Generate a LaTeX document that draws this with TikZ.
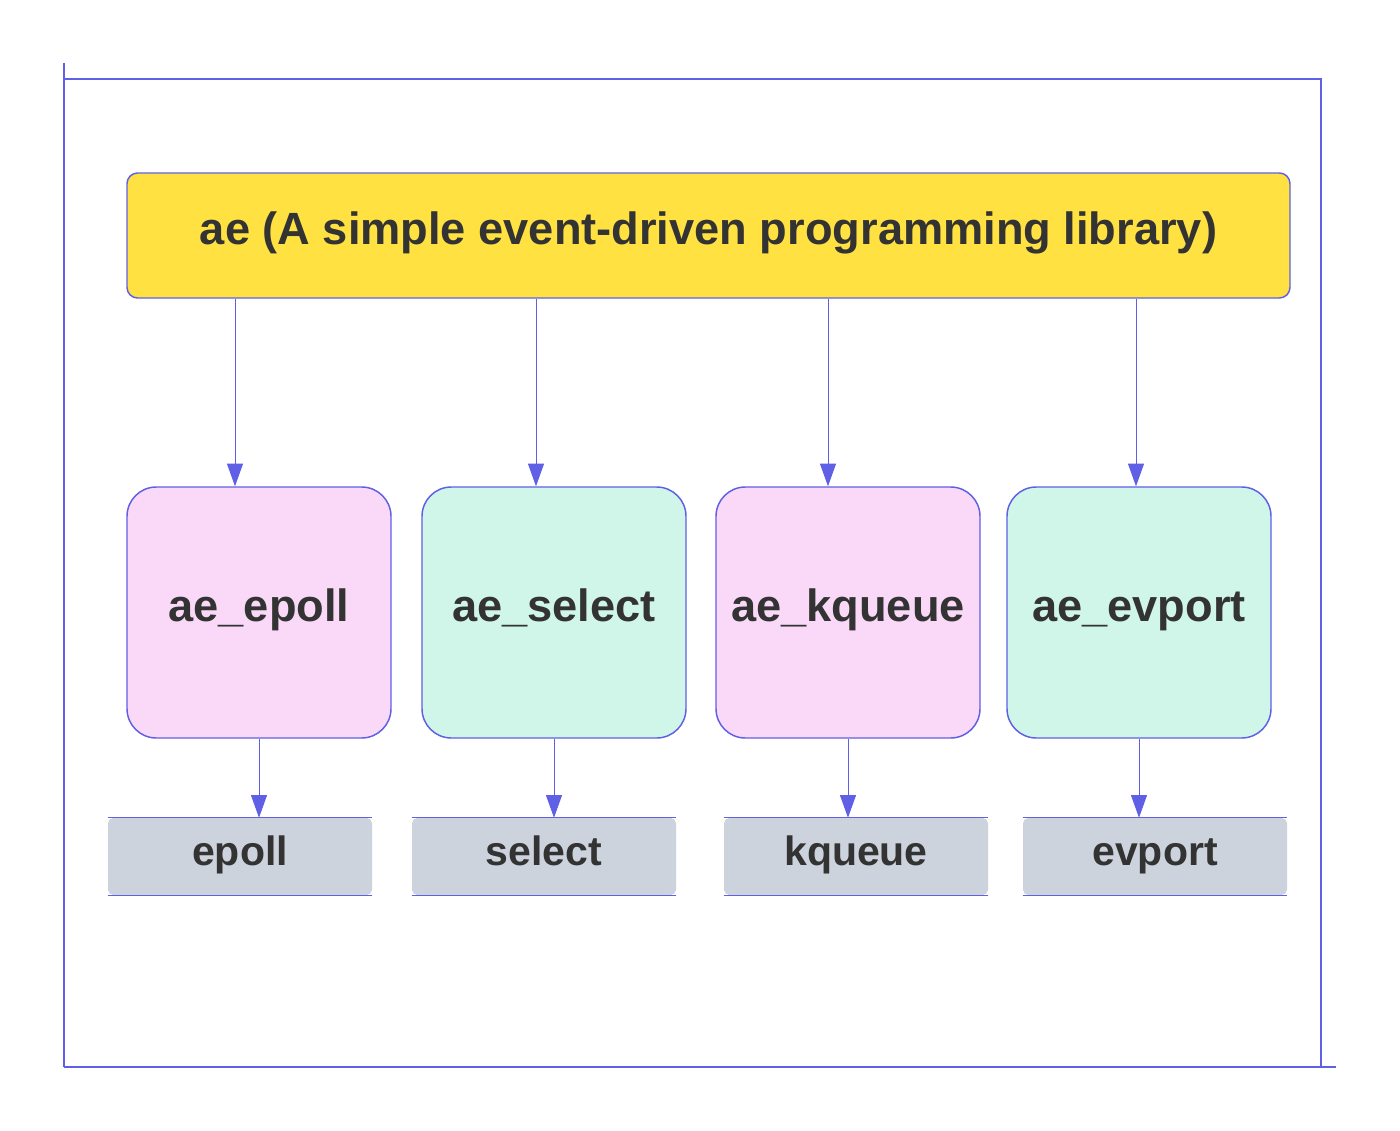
\documentclass[tikz,border=0pt]{standalone}
\usepackage{fontspec}
\setmainfont{Liberation Sans}
\usetikzlibrary{arrows.meta}
\definecolor{lineblue}{RGB}{96,96,230}
\definecolor{aeyellow}{RGB}{255,225,65}
\definecolor{aepink}{RGB}{249,217,247}
\definecolor{aemint}{RGB}{207,246,233}
\definecolor{aegrey}{RGB}{205,211,221}
\definecolor{txt}{RGB}{51,51,51}
\tikzset{
  biglbl/.style={text=txt, text height=24.4pt, text depth=10.2pt,
    font=\fontsize{33.9pt}{40pt}\selectfont\bfseries},
  smalllbl/.style={text=txt, text height=22.1pt, text depth=9.2pt,
    font=\fontsize{30.75pt}{36pt}\selectfont\bfseries},
  topbox/.style={biglbl, draw=lineblue, line width=1.1pt, fill=aeyellow, rounded corners=8pt,
    minimum width=872.25pt, minimum height=93.75pt, inner sep=0pt},
  midbox/.style={biglbl, draw=lineblue, line width=1.1pt, rounded corners=22pt,
    minimum width=198pt, minimum height=188.25pt, inner sep=0pt},
  lowbox/.style={smalllbl, fill=aegrey, rounded corners=4pt,
    minimum width=198pt, minimum height=57.75pt, inner sep=0pt},
  edgeline/.style={draw=lineblue, line width=0.8pt},
  arr/.style={draw=lineblue, line width=0.75pt, -{Triangle[width=12pt,length=17pt]}},
  frameline/.style={draw=lineblue, line width=1.5pt},
}
\begin{document}
\begin{tikzpicture}[x=0.75pt, y=-0.75pt]
\path[use as bounding box, fill=white] (0,0) rectangle (1400,1131);
% frame
\coordinate (f1) at (64,63);
\coordinate (f2) at (64,1067);
\coordinate (f3) at (1321,79);
\coordinate (f4) at (1321,1068);
\coordinate (f5) at (64,79);
\coordinate (f6) at (1322,79);
\coordinate (f7) at (64,1067);
\coordinate (f8) at (1336,1067);
\draw[frameline] (f1) -- (f2);
\draw[frameline] (f3) -- (f4);
\draw[lineblue, line width=1pt] (f5) -- (f6);
\draw[lineblue, line width=1pt] (f7) -- (f8);
% top box
\node[topbox] (ae) at (708.5,235.5) {ae (A simple event-driven programming library)};
% middle boxes
\node[midbox, fill=aepink] (m1) at (259,612.5) {ae\_epoll};
\node[midbox, fill=aemint] (m2) at (554,612.5) {ae\_select};
\node[midbox, fill=aepink] (m3) at (848,612.5) {ae\_kqueue};
\node[midbox, fill=aemint] (m4) at (1139,612.5) {ae\_evport};
% bottom boxes
\node[lowbox] (b1) at (240,856.5) {epoll};
\node[lowbox] (b2) at (544,856.5) {select};
\node[lowbox] (b3) at (856,856.5) {kqueue};
\node[lowbox] (b4) at (1155,856.5) {evport};
\foreach \b in {b1,b2,b3,b4}{
  \draw[edgeline] (\b.north west) -- (\b.north east);
  \draw[edgeline] (\b.south west) -- (\b.south east);
}
% arrows top -> middle
\coordinate (x1) at (235,0);
\coordinate (x2) at (536,0);
\coordinate (x3) at (828,0);
\coordinate (x4) at (1136,0);
\draw[arr] (ae.south -| x1) -- (m1.north -| x1);
\draw[arr] (ae.south -| x2) -- (m2.north -| x2);
\draw[arr] (ae.south -| x3) -- (m3.north -| x3);
\draw[arr] (ae.south -| x4) -- (m4.north -| x4);
% arrows middle -> bottom
\draw[arr] (m1.south) -- (m1.south |- b1.north);
\draw[arr] (m2.south) -- (m2.south |- b2.north);
\draw[arr] (m3.south) -- (m3.south |- b3.north);
\draw[arr] (m4.south) -- (m4.south |- b4.north);
\end{tikzpicture}
\end{document}
